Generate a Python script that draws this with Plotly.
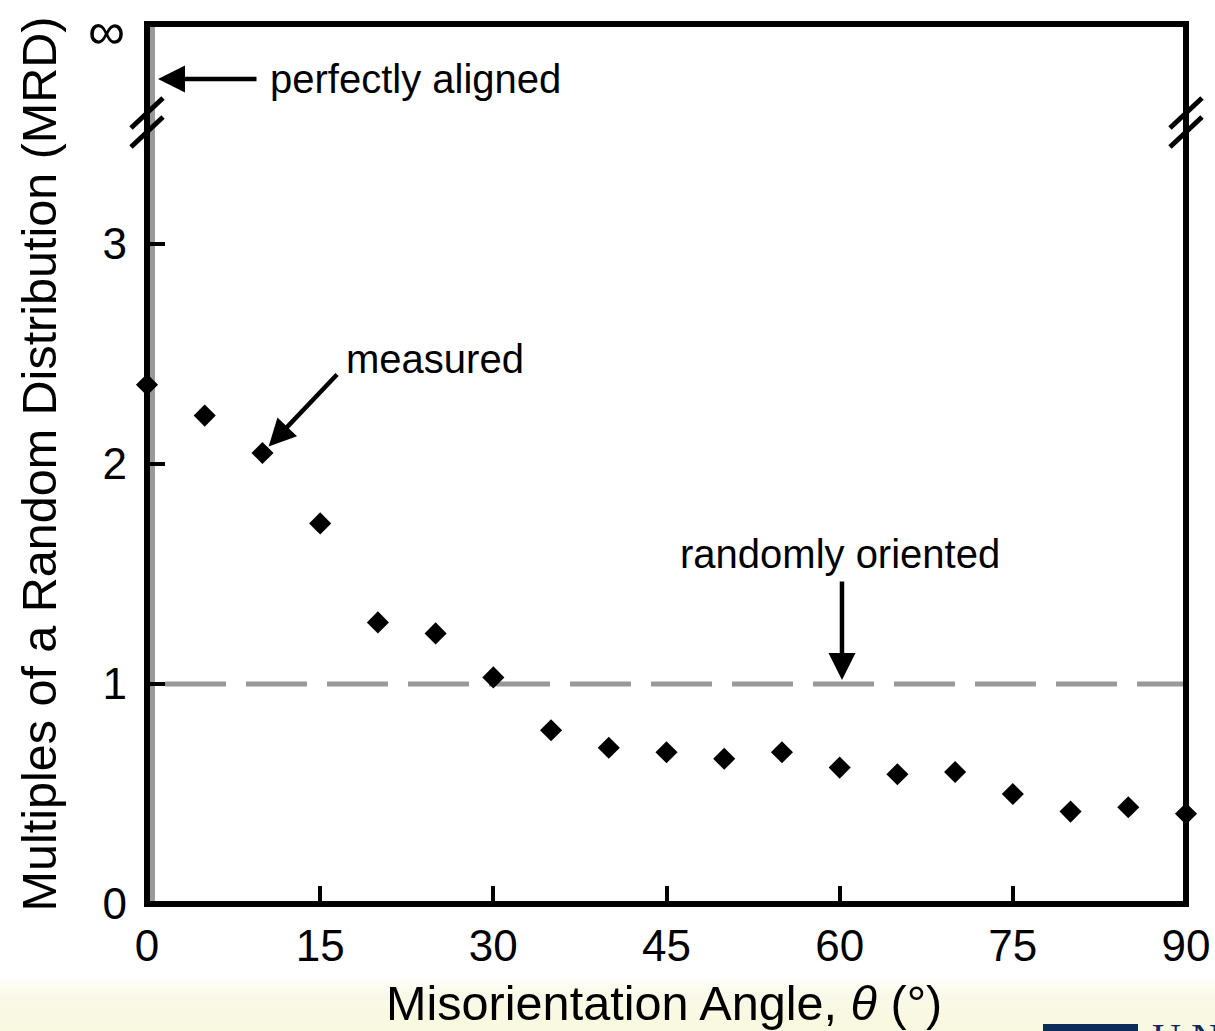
import plotly.graph_objects as go

# ---- data ----
angles = [0, 5, 10, 15, 20, 25, 30, 35, 40, 45, 50, 55, 60, 65, 70, 75, 80, 85, 90]
mrd = [2.36, 2.22, 2.05, 1.73, 1.28, 1.23, 1.03, 0.79, 0.71, 0.69, 0.66, 0.69,
       0.62, 0.59, 0.60, 0.50, 0.42, 0.44, 0.41]
random_level = 1.0
x_ticks = [0, 15, 30, 45, 60, 75, 90]
y_ticks = [0, 1, 2, 3]
y_tick_text = ["0", "1", "2", "3"]
infinity_label = "∞"
break_level = 3.548
x_max = 90
y_max = 4

FONT = "Liberation Sans, Arial, Helvetica, sans-serif"
GRAY = "#999999"

# figure geometry (pixels)
W, H = 1215, 1031
ML, MR, MT, MB = 144, 26, 21, 124
PW, PH = W - ML - MR, H - MT - MB


def px_x(px):
    return (px - ML) / PW


def px_y(py):
    return (H - MB - py) / PH


fig = go.Figure()

fig.add_trace(go.Scatter(
    x=angles, y=mrd, mode="markers",
    marker=dict(symbol="diamond", size=17, color="black", line=dict(width=0)),
    cliponaxis=False, showlegend=False, hoverinfo="x+y",
))

shapes = []
# bottom cream gradient band
n_b = 12
for i in range(n_b):
    shapes.append(dict(type="rect", xref="paper", yref="paper",
                       x0=-0.2, x1=1.1, y0=-0.2, y1=px_y(978 + i * 3.5),
                       fillcolor="rgba(250,246,222,0.15)",
                       line=dict(width=0), layer="below"))
# logo block
shapes.append(dict(type="rect", xref="paper", yref="paper",
                   x0=px_x(1043), x1=px_x(1138), y0=-0.2, y1=px_y(1024),
                   fillcolor="#0c2c5c", line=dict(width=0), layer="above"))
# perfectly-aligned gray band at theta = 0
shapes.append(dict(type="rect", xref="x", yref="y", x0=0, x1=0.69, y0=0, y1=y_max,
                   fillcolor=GRAY, line=dict(width=0), layer="below"))
# random reference line
shapes.append(dict(type="line", xref="x", yref="y", x0=1.56, x1=x_max,
                   y0=random_level, y1=random_level,
                   line=dict(color=GRAY, width=5, dash="61px,20px"), layer="below"))
# frame
shapes.append(dict(type="rect", xref="x", yref="y", x0=0, x1=x_max, y0=0, y1=y_max,
                   line=dict(color="black", width=6), fillcolor="rgba(0,0,0,0)",
                   layer="above"))
# axis-break marks (paper-referenced so they are not clipped)
for xa in (px_x(147), px_x(1186)):
    for (py0, py1) in ((-5.5, 24.5), (-24.5, 5.5)):
        shapes.append(dict(type="line", xref="paper", yref="paper",
                           xsizemode="pixel", ysizemode="pixel",
                           xanchor=xa, yanchor=px_y(122.5),
                           x0=-16, x1=16, y0=py0, y1=py1,
                           line=dict(color="black", width=5), layer="above"))

ann_font = dict(family=FONT, size=40, color="black")
annotations = [
    # infinity label at the top of the y axis
    dict(x=px_x(127), y=px_y(0), xref="paper", yref="paper", text=infinity_label,
         showarrow=False, xanchor="right", yanchor="top",
         font=dict(family=FONT, size=52, color="black")),
    # perfectly aligned
    dict(x=0, y=3.75, xref="x", yref="y", text="", showarrow=True,
         ax=111, ay=0, standoff=11, arrowhead=2, arrowsize=1.2, arrowwidth=4.5,
         arrowcolor="black"),
    dict(x=10.48, y=3.75, xref="x", yref="y", text="perfectly aligned",
         showarrow=False, xanchor="left", yanchor="middle", font=ann_font),
    # measured
    dict(x=angles[2], y=mrd[2], xref="x", yref="y", text="", showarrow=True,
         ax=76, ay=-80, standoff=9, arrowhead=2, arrowsize=1.2, arrowwidth=4.5,
         arrowcolor="black"),
    dict(x=24.95, y=2.477, xref="x", yref="y", text="measured",
         showarrow=False, xanchor="center", yanchor="middle", font=ann_font),
    # randomly oriented
    dict(x=60.2, y=random_level, xref="x", yref="y", text="", showarrow=True,
         ax=0, ay=-104, standoff=4, arrowhead=2, arrowsize=1.2, arrowwidth=4.5,
         arrowcolor="black"),
    dict(x=60.0, y=1.59, xref="x", yref="y", text="randomly oriented",
         showarrow=False, xanchor="center", yanchor="middle", font=ann_font),
    # x-axis title
    dict(x=px_x(664), y=px_y(1003), xref="paper", yref="paper",
         text="Misorientation Angle, <i>θ</i> (°)", showarrow=False,
         xanchor="center", yanchor="middle",
         font=dict(family=FONT, size=48.6, color="black")),
    # logo text (cut off at bottom, as in the slide)
    dict(x=px_x(1150), y=px_y(1013), xref="paper", yref="paper",
         text="U.N", showarrow=False, xanchor="left", yanchor="top",
         font=dict(family="Liberation Serif, Times New Roman, serif", size=40,
                   color="#0c2c5c")),
]

fig.update_layout(
    width=W, height=H,
    margin=dict(l=ML, r=MR, t=MT, b=MB, pad=0, autoexpand=False),
    paper_bgcolor="white", plot_bgcolor="white",
    font=dict(family=FONT, color="black"),
    shapes=shapes, annotations=annotations,
    showlegend=False,
)

fig.update_xaxes(
    range=[-0.26, 90.26], tickvals=x_ticks, ticktext=[str(v) for v in x_ticks],
    ticks="inside", ticklen=21, tickwidth=4, tickcolor="black",
    showline=False, showgrid=False, zeroline=False, automargin=False,
    tickfont=dict(family=FONT, size=44, color="black"),
    ticklabelstandoff=9,
)
fig.update_yaxes(
    range=[-0.0136, 4.0136], tickvals=y_ticks, ticktext=y_tick_text,
    ticks="inside", ticklen=21, tickwidth=4, tickcolor="black",
    showline=False, showgrid=False, zeroline=False, automargin=False,
    tickfont=dict(family=FONT, size=44, color="black"),
    ticklabelstandoff=16,
    title=dict(text="Multiples of a Random Distribution (MRD)",
               font=dict(family=FONT, size=48.5, color="black"), standoff=30),
)

fig.write_html("out.html")
